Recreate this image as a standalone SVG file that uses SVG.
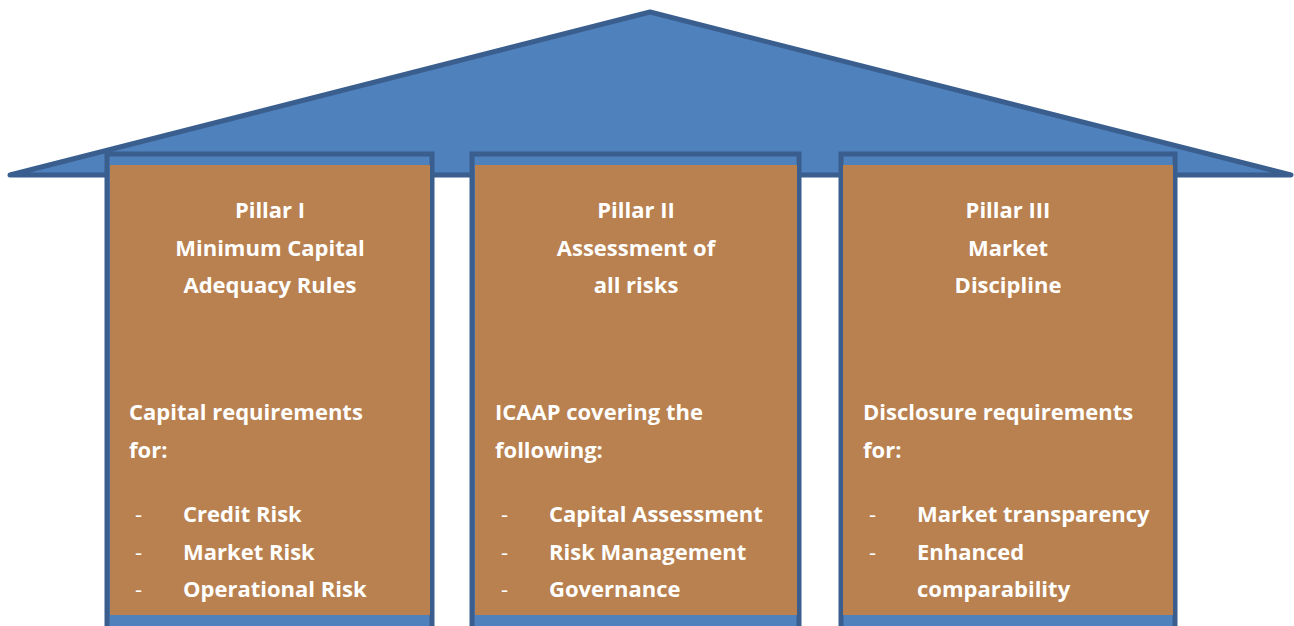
<svg xmlns="http://www.w3.org/2000/svg" width="1294" height="626" viewBox="0 0 1294 626">
  <style>
    .roof { fill: #4F81BD; stroke: #3A5F8F; stroke-width: 5; stroke-linejoin: round; }
    .post { fill: #4F81BD; stroke: #3A5F8F; stroke-width: 5; }
    .face { fill: #B9814F; }
    text { font-family: "Open Sans", Lato, "Liberation Sans", sans-serif; font-weight: bold; font-size: 22px; fill: #FFFFFF; }
    .title { text-anchor: middle; }
    .dash { font-weight: normal; }
  </style>

  <!-- roof -->
  <g id="roof">
    <polygon class="roof" points="10,175 650,12 1291,175"/>
  </g>

  <!-- Pillar I -->
  <g id="pillar1">
    <rect class="post" x="107" y="154" width="325" height="480"/>
    <rect class="face" x="110" y="165" width="320" height="450"/>
    <text class="title" x="270" y="218">Pillar I</text>
    <text class="title" x="270" y="256">Minimum Capital</text>
    <text class="title" x="270" y="293">Adequacy Rules</text>
    <text x="129" y="420">Capital requirements</text>
    <text x="129" y="458">for:</text>
    <text class="dash" x="135" y="522">-</text>
    <text class="dash" x="135" y="560">-</text>
    <text class="dash" x="135" y="597">-</text>
    <text x="183" y="522">Credit Risk</text>
    <text x="183" y="560">Market Risk</text>
    <text x="183" y="597">Operational Risk</text>
  </g>

  <!-- Pillar II -->
  <g id="pillar2">
    <rect class="post" x="472" y="154" width="327" height="480"/>
    <rect class="face" x="475" y="165" width="322" height="450"/>
    <text class="title" x="636" y="218">Pillar II</text>
    <text class="title" x="636" y="256">Assessment of</text>
    <text class="title" x="636" y="293">all risks</text>
    <text x="495" y="420">ICAAP covering the</text>
    <text x="495" y="458">following:</text>
    <text class="dash" x="501" y="522">-</text>
    <text class="dash" x="501" y="560">-</text>
    <text class="dash" x="501" y="597">-</text>
    <text x="549" y="522">Capital Assessment</text>
    <text x="549" y="560">Risk Management</text>
    <text x="549" y="597">Governance</text>
  </g>

  <!-- Pillar III -->
  <g id="pillar3">
    <rect class="post" x="841" y="154" width="334" height="480"/>
    <rect class="face" x="843" y="165" width="330" height="450"/>
    <text class="title" x="1008" y="218">Pillar III</text>
    <text class="title" x="1008" y="256">Market</text>
    <text class="title" x="1008" y="293">Discipline</text>
    <text x="863" y="420">Disclosure requirements</text>
    <text x="863" y="458">for:</text>
    <text class="dash" x="869" y="522">-</text>
    <text class="dash" x="869" y="560">-</text>
    <text x="917" y="522">Market transparency</text>
    <text x="917" y="560">Enhanced</text>
    <text x="917" y="597">comparability</text>
  </g>
</svg>
